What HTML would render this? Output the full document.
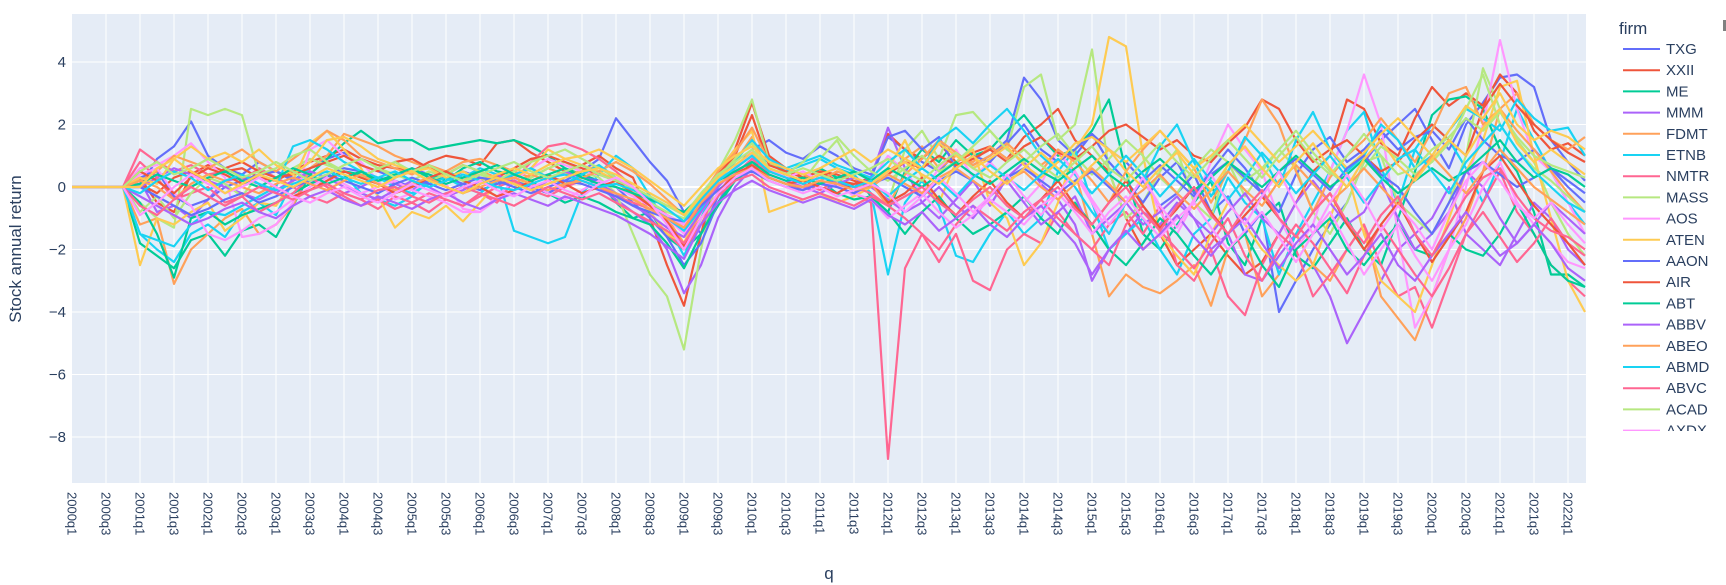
<!DOCTYPE html>
<html><head><meta charset="utf-8"><style>
html,body{margin:0;padding:0;background:#fff;}
svg{display:block;font-family:"Liberation Sans",sans-serif;}
</style></head><body>
<svg id="chart" width="1726" height="585" xmlns="http://www.w3.org/2000/svg">
<rect x="72" y="14" width="1514" height="469" fill="#E5ECF6"/>
<g id="grid"></g>
<g id="lines"></g>
<g id="yticks"></g>
<g id="xticks"></g>
<text x="0" y="0" transform="translate(21,249) rotate(-90)" text-anchor="middle" font-size="17" fill="#2a3f5f">Stock annual return</text>
<text x="829" y="579" text-anchor="middle" font-size="17" fill="#2a3f5f">q</text>
<text x="1619" y="34" font-size="17" fill="#2a3f5f">firm</text>
<g id="legend"></g>
<rect x="1723" y="20" width="3" height="11" fill="#808080"/>
</svg>
<script>
const years = [2000,2001,2002,2003,2004,2005,2006,2007,2008,2009,2010,2011,2012,2013,2014,2015,2016,2017,2018,2019,2020,2021,2022];
const firms = ["TXG","XXII","ME","MMM","FDMT","ETNB","NMTR","MASS","AOS","ATEN","AAON","AIR","ABT","ABBV","ABEO","ABMD","ABVC","ACAD","AXDX","ACHC","ACHV","ACIU","ACIW","ACLS","ACMR","ACN","ACRS","ACRX","ADBE","ADI","ADM","ADP"];
const yTicks = [4,2,0,-2,-4,-6,-8];
const s0=[0,0,0,0,0,0.9,1.3,2.1,1.0,0.6,0.4,0.8,0.5,0.2,0.6,0.9,1.1,0.7,0.5,0.3,0.6,0.4,0.2,0.5,0.3,0.1,0.4,0.6,0.3,0.2,0.5,0.9,2.2,1.5,0.8,0.2,-0.8,-1.5,-0.3,0.6,1.2,1.5,1.1,0.9,1.3,1.0,0.6,0.4,1.6,1.2,0.8,0.5,1.1,0.7,1.0,1.5,3.5,2.8,1.5,1.0,1.7,1.2,0.8,0.2,-0.6,-0.2,0.4,-0.8,-0.3,-1.5,-0.8,-4.0,-3.0,-2.0,-1.2,-0.5,0.8,1.5,2.0,2.5,1.5,0.6,2.0,2.7,3.5,3.6,3.2,1.5,0.8,0.2];
const s1=[0,0,0,0,0.3,-0.5,-0.8,0.4,0.7,0.5,0.6,0.3,0.2,0.5,0.8,1.0,1.2,0.9,0.7,0.6,0.5,0.8,1.0,0.9,0.7,1.4,1.5,1.1,0.8,0.5,0.7,1.0,0.6,0.3,-1.0,-2.5,-3.8,-1.5,0.5,1.2,2.7,1.0,0.6,0.3,0.5,0.2,0.1,0.3,1.7,1.2,0.9,1.4,0.8,1.1,1.3,0.9,1.6,2.0,2.5,1.5,1.0,0.5,-1.0,-2.0,-1.5,-2.5,-2.0,-1.5,-2.2,-2.8,-2.4,-1.5,-0.5,0.5,1.0,2.8,2.5,1.4,1.0,2.2,3.2,2.6,3.0,2.6,3.6,3.0,1.8,1.2,1.4,1.0];
const s2=[0,0,0,0,-1.8,-2.2,-2.6,-1.7,-1.5,-2.2,-1.4,-1.2,-1.6,-0.6,0.4,0.9,1.4,1.8,1.4,1.5,1.5,1.2,1.3,1.4,1.5,1.4,1.5,1.3,1.0,0.6,0.4,0.2,-0.5,-1.0,-0.8,-1.6,-2.0,-1.5,-0.6,0.2,0.8,0.5,0.4,0.2,0.6,0.3,0.4,-0.3,-0.8,0.5,1.2,0.8,1.5,1.0,1.2,1.8,2.3,1.6,1.0,1.2,1.8,2.8,0.5,-1.5,-2.0,-1.2,-0.5,0.2,-1.8,-2.5,-1.0,-0.5,-2.2,-2.6,-1.8,-1.0,-2.0,-2.5,-1.0,0.5,2.3,2.8,2.9,2.5,1.2,0.5,-0.8,-2.8,-2.8,-3.2];
const s3=[0,0,0,0,0.2,-0.8,-0.6,-1.0,-0.4,0.2,0.3,0.1,-0.2,0.2,0.4,0.1,-0.2,0.0,0.3,0.1,-0.1,0.2,0.0,-0.2,0.1,0.3,0.2,0.0,-0.2,0.1,0.2,0.0,-0.4,-0.8,-1.2,-2.0,-3.4,-2.5,-1.0,0.0,0.6,0.3,0.1,-0.1,0.2,0.0,-0.2,0.3,1.9,0.6,-0.5,-1.0,-0.4,0.2,-0.6,0.3,0.8,0.1,-0.4,-1.2,-3.0,-2.0,-1.5,-0.8,-1.2,-0.5,-1.0,-2.0,-1.5,-2.8,-3.0,-2.2,-1.5,-2.5,-3.5,-5.0,-4.0,-3.0,-2.0,-1.5,-1.0,0.0,-1.5,-2.0,-2.5,-1.5,-0.5,-1.0,-2.0,-2.5];
const s4=[0,0,0,0,-1.2,-1.0,-3.1,-2.0,-1.5,-1.0,-0.7,-1.5,-1.2,-0.6,0.6,1.0,1.7,1.5,1.3,1.0,0.8,0.6,0.5,0.8,0.9,0.7,0.5,0.3,0.6,0.4,0.5,0.7,0.2,-0.2,-0.5,-1.0,-1.8,-0.8,0.3,0.8,1.6,0.5,0.3,0.1,0.4,0.2,0.0,0.1,0.5,0.9,1.3,0.6,1.0,0.8,1.3,0.9,1.2,0.7,1.1,0.5,-1.5,-3.5,-2.8,-3.2,-3.4,-3.0,-2.5,-3.8,-2.0,-1.5,-3.5,-2.8,-1.5,-2.5,-3.0,-2.0,-1.2,-3.5,-4.2,-4.9,-3.5,-2.0,-1.0,0.5,2.5,3.0,2.0,1.5,1.2,1.6];
const s5=[0,0,0,0,-1.5,-2.0,-2.4,-1.5,-1.2,-1.6,-0.8,-0.5,-0.9,0.2,0.6,0.8,0.4,-0.2,-0.4,-0.6,-0.3,0.2,0.5,0.3,0.6,0.4,-1.4,-1.6,-1.8,-1.6,-0.2,0.4,1.0,0.6,-0.3,-1.2,-2.2,-1.0,0.2,0.6,1.0,0.8,0.5,0.7,0.9,0.6,0.4,-0.2,-2.8,-0.5,0.2,-0.6,-2.2,-2.4,-1.5,-0.8,-1.5,-1.0,0.5,1.2,-0.5,-2.0,-1.5,-1.0,-2.0,-2.8,-1.5,-1.0,0.3,-0.5,-1.0,-2.8,-1.5,-0.5,0.5,1.8,2.4,0.6,-0.5,1.2,2.0,1.5,0.6,-0.5,0.8,2.5,1.5,0.5,-0.5,-1.2];
const s6=[0,0,0,0,1.2,0.8,0.5,0.7,0.4,0.5,0.2,0.6,0.3,0.0,-0.3,-0.5,-0.2,-0.4,-0.7,-0.3,-0.5,-0.8,-0.4,-0.6,-0.2,-0.5,0.2,0.8,1.3,1.4,1.2,0.9,0.5,0.0,-0.8,-1.5,-2.0,-1.2,-0.2,0.5,0.8,0.3,0.1,-0.1,0.2,0.0,-0.2,-0.5,-8.7,-2.6,-1.5,-2.4,-1.5,-3.0,-3.3,-2.0,-1.5,-1.8,-0.8,-1.5,-2.0,-1.2,-0.8,-1.5,-0.6,-2.5,-3.0,-2.0,-3.5,-4.1,-2.5,-1.5,-2.0,-3.5,-2.8,-2.0,-1.2,-2.5,-3.5,-3.2,-4.5,-3.0,-1.5,-0.5,0.5,-0.8,-1.5,-2.5,-3.0,-3.5];
const s7=[0,0,0,0,-0.5,-1.0,-1.3,2.5,2.3,2.5,2.3,0.4,0.2,0.6,0.9,0.7,0.5,0.3,0.6,0.4,0.2,0.5,0.3,0.1,0.4,0.2,0.0,0.3,0.6,0.8,0.5,0.3,-0.2,-1.5,-2.8,-3.5,-5.2,-2.0,0.5,1.5,2.8,0.8,0.4,0.2,0.9,1.5,0.5,0.2,-0.5,1.2,1.8,0.9,2.3,2.4,1.8,1.2,3.2,3.6,1.5,2.0,4.4,0.5,-1.0,-0.5,0.5,1.2,-0.5,-1.0,0.8,-0.3,0.5,1.2,0.6,-0.8,-1.5,-0.5,0.8,1.0,-0.5,-1.0,-1.5,-0.5,1.0,3.8,2.5,1.5,0.8,-0.5,-1.5,-2.2];
const s8=[0,0,0,0,0.6,0.7,1.0,1.4,0.8,0.3,-1.6,-1.5,-1.2,-0.5,1.2,1.5,1.0,0.8,0.2,-0.4,-0.2,0.3,0.1,-0.7,-0.8,-0.3,0.2,0.6,0.9,0.7,0.5,0.4,0.2,0.0,-0.4,-1.0,-1.5,-0.8,0.0,0.5,1.2,0.6,0.3,0.0,0.2,0.1,-0.3,0.2,1.0,0.5,-0.2,0.6,1.2,0.3,0.8,0.2,-0.5,0.1,1.2,0.4,-0.5,-1.5,-0.5,0.3,-0.8,-1.5,-0.5,0.8,2.0,1.2,0.5,-1.0,-2.0,-1.2,0.5,1.8,3.6,2.0,-1.5,-4.5,-3.5,-2.0,0.0,2.0,4.7,2.5,1.0,0.5,-0.5,-1.5];
const s9=[0,0,0,0,-2.5,-1.0,-1.2,-0.8,-0.5,-1.4,-1.0,-0.5,-0.6,0.2,1.4,1.8,1.2,0.6,-0.3,-1.3,-0.8,-1.0,-0.6,-1.1,-0.5,0.1,0.3,0.6,1.2,0.9,0.7,0.5,0.2,-0.3,-0.8,-1.5,-1.8,-0.5,0.5,1.2,1.8,-0.8,-0.6,-0.4,-0.2,-0.5,-0.3,0.0,0.6,1.5,0.3,-0.5,0.8,1.2,-0.5,-1.0,-2.5,-1.8,-0.5,1.2,2.0,4.8,4.5,1.0,-1.5,-2.2,-2.8,-1.5,-0.5,-1.2,-2.0,-2.5,-3.0,-2.5,-1.0,0.5,-1.5,-3.0,-3.5,-4.0,-2.5,-1.0,0.5,1.5,3.2,3.4,1.0,-1.0,-3.0,-4.0];
const s10=[0,0,0,0,0.3,0.5,-0.3,-0.6,-0.4,0.0,0.2,0.4,0.5,0.3,0.1,0.4,0.6,0.5,0.3,0.2,0.0,0.2,0.3,0.1,-0.1,0.1,0.2,0.0,-0.2,0.1,0.3,0.2,0.0,-0.5,-1.0,-1.6,-2.5,-1.8,-0.5,0.4,0.9,0.5,0.3,0.2,0.4,0.1,0.0,0.3,1.6,1.8,1.2,1.6,0.6,1.0,0.8,1.4,2.0,1.2,0.8,1.2,1.7,0.8,0.2,-0.5,0.3,0.8,-0.2,0.5,1.2,0.6,-0.2,-0.8,0.4,1.2,1.6,0.8,1.2,1.8,1.2,1.6,1.8,1.2,2.2,1.5,1.0,0.8,1.2,0.6,0.0,-0.5];
const s11=[0,0,0,0,0.1,-0.2,0.3,0.5,0.2,0.6,0.8,0.5,0.3,0.4,0.6,0.8,1.0,0.7,0.5,0.8,0.9,0.6,0.4,0.7,0.5,0.3,0.6,0.9,1.0,0.8,0.6,0.4,0.2,-0.2,-0.5,-0.9,-1.2,-0.5,0.4,1.0,2.3,0.7,0.5,0.3,0.5,0.4,0.2,0.0,0.4,0.8,0.6,1.0,0.7,0.9,1.2,0.8,1.3,1.6,1.1,0.9,1.3,1.8,2.0,1.6,1.2,1.5,1.0,0.8,1.4,1.9,2.8,2.5,1.5,0.8,1.2,1.5,1.0,0.5,0.8,1.5,2.0,1.5,1.0,2.5,3.3,2.6,2.0,1.5,1.1,0.8];
const s12=[0,0,0,0,-0.5,-1.5,-2.9,-1.0,-0.8,-1.2,-0.9,-0.7,-0.5,-0.2,0.1,0.3,0.5,0.4,0.2,0.3,0.5,0.4,0.2,0.6,0.8,0.5,0.4,0.2,-0.2,-0.5,-0.3,-0.5,-0.8,-1.0,-1.2,-1.8,-2.6,-1.5,-0.5,0.2,0.6,0.3,0.1,0.0,0.2,-0.2,-0.4,-0.3,-0.8,-1.5,-0.8,-0.3,-1.0,-1.5,-1.2,-0.8,-0.3,-1.0,-1.5,-0.5,-1.2,-2.0,-2.5,-1.8,-1.0,-1.5,-2.2,-2.8,-2.0,-1.5,-2.5,-3.2,-2.0,-1.5,-1.0,-2.0,-2.5,-1.8,-1.2,-2.0,-2.2,-1.5,-2.0,-2.2,-1.5,-0.5,-1.5,-2.5,-3.0,-3.2];
const s13=[0,0,0,0,0.0,0.3,0.6,0.4,0.2,0.0,-0.2,-0.4,-0.1,0.2,0.5,0.3,0.0,-0.2,-0.4,-0.1,0.2,0.0,-0.3,-0.1,0.2,0.4,0.1,-0.1,0.2,0.5,0.3,0.1,-0.2,-0.6,-0.9,-1.3,-1.6,-0.8,0.0,0.6,1.0,0.4,0.2,0.0,-0.2,0.1,0.3,0.0,-0.4,-0.8,-0.5,0.0,-0.6,-1.0,-0.3,0.2,-0.5,-1.2,-0.8,-0.3,-1.5,-1.0,-0.5,-1.2,-0.8,-0.3,-1.0,-1.5,-0.8,-0.2,-1.0,-1.5,-0.5,0.2,-0.5,-1.2,-0.8,0.2,-1.0,-2.0,-1.5,-0.8,0.5,0.0,-1.0,-1.8,-1.2,-0.5,-1.0,-1.5];
const s14=[0,0,0,0,0.2,0.5,1.0,0.8,0.6,0.9,1.2,0.8,0.5,0.9,1.3,1.8,1.5,1.0,0.8,0.6,0.4,0.7,0.5,0.2,0.5,0.3,0.1,0.4,0.2,0.0,0.3,0.5,0.8,0.5,0.1,-0.4,-0.9,-0.3,0.5,1.1,1.9,0.8,0.6,0.4,0.2,0.5,0.3,0.1,-0.6,0.4,0.9,1.5,1.1,0.7,1.0,1.4,0.9,0.5,1.2,0.8,0.2,-0.5,0.5,1.2,1.8,1.2,0.6,-0.5,0.5,1.5,2.8,2.0,0.5,-0.8,0.3,1.0,1.5,2.2,1.5,0.8,1.8,3.0,3.2,2.0,2.5,1.8,1.2,0.5,-0.2,-0.8];
const s15=[0,0,0,0,-1.5,-1.7,-1.9,-1.2,-0.8,-0.9,-0.6,-0.3,0.0,1.3,1.5,1.2,0.8,0.5,0.3,0.0,-0.2,0.1,0.3,0.0,-0.2,0.2,0.4,0.6,0.3,0.1,0.4,0.7,0.3,0.0,-0.4,-1.0,-1.4,-0.7,0.2,0.8,1.5,0.9,0.6,0.8,1.0,0.7,0.5,0.3,0.8,1.2,0.6,1.5,1.9,1.4,2.0,2.5,1.8,1.0,0.5,0.0,-0.8,-1.5,-0.5,0.2,1.3,2.0,0.8,-0.3,0.5,1.6,1.0,0.0,1.5,2.4,1.2,0.5,1.0,2.0,1.5,0.6,1.0,1.8,2.5,2.2,1.8,2.8,2.2,1.8,1.9,1.0];
const s16=[0,0,0,0,0.8,0.3,-0.4,-0.2,0.0,-0.5,-0.3,-0.8,-0.5,-0.2,0.3,0.0,-0.3,-0.6,-0.4,-0.7,-0.5,-0.2,-0.4,-0.6,-0.3,0.0,0.2,-0.1,-0.3,0.0,0.2,0.0,-0.3,-0.5,-0.7,-1.0,-1.3,-0.6,0.1,0.4,0.9,0.5,0.3,0.1,-0.1,0.2,0.0,-0.2,-0.6,-1.0,-1.5,-2.0,-1.2,-0.6,-1.0,-1.4,-0.8,-0.4,-1.0,-1.5,-2.0,-2.5,-1.2,-0.6,-1.4,-2.0,-2.6,-1.8,-1.0,-2.2,-3.0,-2.0,-1.2,-1.8,-2.6,-3.4,-2.2,-1.2,-2.0,-2.8,-3.5,-2.6,-1.5,-0.8,-1.6,-2.4,-1.8,-1.0,-1.8,-2.2];
const s17=[0,0,0,0,-0.8,-0.3,-1.0,-0.2,0.3,0.1,-0.3,0.4,0.6,1.0,1.2,0.8,0.5,0.3,0.6,0.8,0.5,0.2,0.4,0.7,0.5,0.2,0.5,0.8,1.0,1.2,0.9,0.6,0.3,-0.1,-0.5,-0.8,-1.0,-0.4,0.3,0.9,1.4,0.6,0.4,0.8,1.4,1.6,1.0,0.5,0.2,0.6,1.0,0.5,0.8,1.3,1.8,1.2,0.8,1.3,1.7,1.0,0.4,0.9,1.5,1.0,0.3,-0.2,0.6,1.2,0.8,0.2,0.6,1.2,1.8,1.1,0.5,0.0,0.6,1.3,0.9,0.4,0.8,1.4,2.5,3.6,2.0,1.2,0.6,0.2,-0.3,-0.8];
const s18=[0,0,0,0,0.4,0.6,-0.2,-0.6,-1.5,-1.7,-1.4,-1.0,-0.8,-0.4,0.0,0.3,0.1,-0.2,0.0,0.2,-0.1,-0.3,-0.5,-0.8,-0.8,-0.4,-0.1,0.1,-0.2,-0.4,-0.1,0.2,0.0,-0.3,-0.6,-0.9,-1.2,-0.5,0.2,0.6,1.1,0.6,0.3,0.5,0.2,0.0,-0.2,-0.4,-1.0,-0.6,-0.2,-0.8,-1.3,-0.9,-0.4,-0.8,-1.2,-0.6,-0.2,-0.8,-1.5,-0.8,-0.3,-1.0,-1.6,-1.0,-0.5,-1.3,-2.0,-1.4,-0.8,-1.6,-2.4,-1.5,-0.8,-1.8,-2.8,-2.0,-1.2,-2.2,-3.0,-2.0,-1.2,0.0,0.8,-0.5,-1.2,-1.8,-2.4,-2.6];
const s19=[0,0,0,0,0.3,0.1,0.9,1.3,0.9,1.1,0.8,1.2,0.7,0.4,0.8,1.5,1.6,1.3,0.9,0.7,0.5,0.6,0.3,0.5,0.2,0.4,0.6,0.4,0.7,0.9,1.0,1.2,0.9,0.6,0.2,-0.2,-0.6,0.0,0.6,1.0,1.3,0.8,0.6,0.4,0.6,0.9,1.2,0.8,1.2,0.9,0.6,1.4,1.0,0.6,0.9,1.3,0.7,0.3,0.8,1.4,1.6,1.2,0.8,1.3,1.8,1.2,0.6,1.0,1.5,2.0,1.4,0.8,1.3,1.8,1.2,0.6,1.1,1.7,2.2,1.6,1.0,1.8,2.6,2.2,3.0,2.0,1.5,1.8,1.6,1.2];
const s20=[0,0,0,0,0.0,-0.3,-0.6,-0.9,-0.7,-0.4,-0.2,-0.5,-0.3,0.0,0.2,0.4,0.2,0.0,-0.2,0.1,0.3,0.1,-0.1,0.1,0.3,0.2,0.0,-0.2,0.0,0.2,0.1,-0.1,-0.3,-0.6,-0.8,-1.0,-1.1,-0.6,-0.1,0.3,0.5,0.2,0.0,-0.1,0.1,0.0,-0.2,0.1,0.3,0.0,-0.3,0.2,0.5,0.2,-0.2,0.3,0.6,0.2,-0.2,0.2,0.5,0.0,-0.5,0.2,0.7,0.2,-0.3,0.4,0.8,0.3,-0.2,0.5,0.9,0.4,-0.1,0.6,1.0,0.4,0.0,-0.8,-1.5,-0.5,0.5,0.8,0.4,0.0,0.3,0.6,0.2,-0.2];
const s21=[0,0,0,0,0.5,0.2,-0.2,0.3,0.6,0.4,0.1,0.3,0.0,-0.3,-0.1,0.2,0.5,0.3,0.1,-0.2,0.0,0.3,0.5,0.2,0.0,-0.3,-0.1,0.2,0.4,0.1,-0.2,0.0,0.2,-0.2,-0.6,-1.1,-1.9,-1.0,-0.2,0.4,0.7,0.3,0.1,0.2,0.0,-0.2,0.1,0.2,-0.5,-0.2,0.3,-0.4,-0.9,-0.3,0.2,-0.5,-1.0,-0.4,0.2,-0.6,-1.2,-0.5,0.2,-0.6,-1.3,-0.7,0.0,-0.8,-1.5,-0.9,-0.3,-1.0,-1.6,-0.8,-0.2,-1.2,-2.0,-1.2,-0.5,-1.5,-2.4,-1.6,-0.8,0.5,1.0,0.2,-0.6,-1.2,-1.8,-2.5];
const s22=[0,0,0,0,0.1,0.4,0.2,0.0,0.3,0.5,0.2,0.0,0.3,0.6,0.4,0.1,0.3,0.5,0.2,0.4,0.6,0.3,0.1,0.3,0.5,0.7,0.4,0.2,0.4,0.6,0.3,0.1,0.0,-0.2,-0.4,-0.6,-0.8,-0.3,0.2,0.5,0.8,0.4,0.2,0.3,0.1,0.3,0.5,0.2,0.6,0.3,0.0,0.4,0.8,0.4,0.1,0.5,0.9,0.5,0.2,0.6,1.0,0.4,0.0,0.5,0.9,0.4,-0.1,0.3,0.8,0.4,0.0,0.5,1.0,0.5,0.0,0.4,0.9,0.3,-0.2,0.2,0.6,0.2,0.5,1.0,1.5,0.8,0.3,0.6,0.4,0.0];
const s23=[0,0,0,0,-0.3,-0.6,-0.9,-1.2,-1.0,-0.7,-0.5,-0.8,-1.0,-0.6,-0.3,-0.1,-0.4,-0.6,-0.3,-0.5,-0.7,-0.4,-0.2,-0.5,-0.7,-0.4,-0.2,-0.4,-0.6,-0.3,-0.5,-0.7,-0.9,-1.2,-1.5,-1.9,-2.3,-1.2,-0.5,-0.1,0.2,-0.1,-0.3,-0.5,-0.3,-0.5,-0.7,-0.4,-0.9,-1.2,-0.8,-1.4,-1.0,-0.6,-1.2,-1.6,-1.0,-0.6,-1.2,-1.8,-2.8,-2.0,-1.4,-2.0,-1.5,-0.9,-1.6,-2.2,-1.5,-1.0,-1.8,-2.6,-1.8,-1.2,-2.0,-2.8,-2.2,-1.5,-2.5,-3.0,-2.2,-1.5,-0.8,-1.5,-2.2,-1.8,-1.2,-1.8,-2.6,-3.0];
const s24=[0,0,0,0,0.2,0.0,-0.4,0.1,0.4,0.2,0.0,-0.2,0.1,0.3,0.1,-0.1,0.2,0.4,0.1,-0.1,0.1,0.3,0.0,-0.2,0.0,0.2,0.3,0.1,-0.1,0.1,0.2,0.0,-0.2,-0.4,-0.7,-1.0,-1.3,-0.5,0.1,0.4,0.6,0.3,0.1,0.0,0.2,0.1,-0.1,0.0,0.4,0.1,-0.2,0.3,0.6,0.2,-0.2,0.2,0.5,0.0,-0.4,0.1,0.6,0.1,-0.5,-0.1,0.4,-0.2,-0.7,-0.1,0.5,-0.1,-0.6,0.2,0.7,0.1,-0.5,0.0,0.6,0.0,-0.6,0.3,1.0,0.4,-0.2,0.5,1.2,0.6,0.0,-0.4,-0.8,-1.2];
const s25=[0,0,0,0,-0.2,0.2,0.5,0.3,-0.1,0.2,0.4,0.1,-0.1,0.1,0.3,0.5,0.3,0.1,0.3,0.5,0.2,0.0,0.2,0.4,0.2,0.0,-0.1,0.1,0.3,0.4,0.2,0.0,0.1,-0.1,-0.3,-0.7,-1.1,-0.4,0.2,0.6,1.0,0.5,0.3,0.1,0.3,0.2,0.0,0.2,-0.3,0.2,0.6,0.2,-0.3,0.3,0.7,0.3,-0.1,0.4,0.9,0.4,-0.2,0.4,1.0,0.4,-0.3,0.3,0.9,0.2,-0.4,0.3,1.1,0.5,-0.2,0.4,1.0,0.3,-0.5,0.2,0.9,1.2,0.5,-0.2,0.8,1.4,2.0,1.2,0.5,0.0,-0.5,-0.8];
const s26=[0,0,0,0,-0.6,-0.9,-0.4,0.0,-0.3,-0.6,-0.3,0.0,-0.2,-0.4,-0.1,0.1,-0.2,-0.4,-0.1,0.0,-0.3,-0.5,-0.2,0.0,-0.2,-0.4,-0.6,-0.3,0.0,-0.2,-0.4,-0.2,-0.5,-0.8,-1.1,-1.4,-1.8,-1.0,-0.3,0.2,0.4,0.0,-0.2,-0.4,-0.2,-0.4,-0.6,-0.3,-0.6,-0.3,0.0,-0.5,-0.9,-0.4,0.0,-0.6,-1.0,-0.4,0.0,-0.7,-1.2,-0.5,0.0,-0.8,-1.4,-0.6,0.0,-0.9,-1.5,-0.7,-0.1,-1.0,-1.6,-0.8,-0.2,-1.1,-1.8,-0.9,-0.3,-1.5,-2.2,-1.2,-0.3,0.3,0.6,-0.3,-1.0,-1.4,-1.6,-2.0];
const s27=[0,0,0,0,0.5,0.8,0.4,0.6,0.9,0.6,0.3,0.5,0.8,0.5,0.2,0.4,0.7,0.9,0.6,0.3,0.5,0.7,0.4,0.2,0.4,0.6,0.8,0.5,0.3,0.5,0.7,0.4,0.2,0.0,-0.3,-0.6,-0.9,-0.2,0.4,0.8,1.2,0.6,0.4,0.6,0.4,0.2,0.4,0.6,0.9,0.5,0.2,0.7,1.1,0.6,0.3,0.8,1.2,0.7,0.3,0.8,1.3,0.6,0.2,0.8,1.4,0.8,0.3,0.9,1.5,0.9,0.3,1.0,1.6,0.9,0.4,1.0,1.7,1.0,0.4,0.6,1.2,1.6,2.2,1.8,2.4,1.6,1.0,0.7,0.5,0.3];
const s28=[0,0,0,0,-0.9,-0.5,0.0,0.4,0.1,-0.2,0.0,0.3,0.0,-0.3,-0.5,-0.2,0.0,-0.3,-0.5,-0.2,0.1,-0.1,-0.3,0.0,0.2,-0.1,-0.3,0.0,0.2,-0.1,-0.3,0.1,0.3,0.0,-0.5,-1.2,-2.0,-1.0,-0.2,0.3,0.6,0.2,0.0,-0.2,0.0,-0.3,-0.1,0.1,-0.2,-0.8,-0.3,0.3,-0.2,-0.8,-0.3,0.4,-0.3,-0.9,-0.2,0.5,-0.4,-1.2,-0.5,0.3,-0.6,-1.3,-0.4,0.4,-0.5,-1.2,-0.3,0.5,-0.6,-1.5,-0.5,0.4,-0.4,-1.4,-0.6,-1.2,-2.0,-0.8,0.2,0.8,0.2,-0.6,-1.0,-0.5,-1.2,-1.8];
const s29=[0,0,0,0,0.0,0.6,0.9,0.5,0.2,-0.2,0.1,0.4,0.2,0.0,0.3,0.6,0.4,0.2,0.0,0.3,0.5,0.2,0.0,-0.2,0.1,0.3,0.1,-0.1,0.1,0.3,0.5,0.6,0.4,0.1,-0.2,-0.5,-0.9,-0.3,0.3,0.7,1.1,0.6,0.4,0.2,0.4,0.6,0.3,0.1,0.5,0.8,0.4,0.1,0.6,1.0,0.5,0.1,0.6,1.1,0.6,0.1,0.7,1.2,0.5,0.0,0.6,1.1,0.4,-0.1,0.7,1.3,0.6,0.0,0.8,1.4,0.6,0.0,0.9,1.5,0.7,0.2,0.9,1.5,1.0,1.9,2.5,1.4,0.8,1.2,0.8,0.4];
const series=[s0,s1,s2,s3,s4,s5,s6,s7,s8,s9,s10,s11,s12,s13,s14,s15,s16,s17,s18,s19,s20,s21,s22,s23,s24,s25,s26,s27,s28,s29];
const palette=["#636efa","#EF553B","#00cc96","#ab63fa","#FFA15A","#19d3f3","#FF6692","#B6E880","#FF97FF","#FECB52"];
const NS="http://www.w3.org/2000/svg";
const quarters=[];years.forEach(y=>{for(let q=1;q<=4;q++){if(y===2022&&q>2)continue;quarters.push(y+"q"+q);}});
const X0=72,DX=17,Y0=187,YS=31.25;
const xs=i=>X0+i*DX, ys=v=>Y0-v*YS;
function mk(t,a,p){const e=document.createElementNS(NS,t);for(const k in a)e.setAttribute(k,a[k]);p.appendChild(e);return e;}
const grid=document.getElementById('grid'),xt=document.getElementById('xticks'),yt=document.getElementById('yticks');
quarters.forEach((q,i)=>{if(i%2)return;
 if(i>0){const l=mk('line',{x1:xs(i),x2:xs(i),y1:14,y2:483,stroke:'#fff','stroke-width':1},grid);
 
 }
 const t=mk('text',{x:xs(i),y:492,transform:`rotate(90 ${xs(i)} 492)`,'font-size':13,fill:'#2a3f5f','dominant-baseline':'central'},xt);
 t.textContent=q;
 
 });
yTicks.forEach(v=>{const l=mk('line',{x1:72,x2:1586,y1:ys(v),y2:ys(v),stroke:'#fff','stroke-width':v===0?2:1},grid);
 
 
 const t=mk('text',{x:66,y:ys(v)+5,'text-anchor':'end','font-size':15,fill:'#2a3f5f'},yt);
 t.textContent=v<0?'\u2212'+(-v):String(v);
 
 });
const lines=document.getElementById('lines');
series.forEach((s,k)=>{const p=mk('polyline',{points:s.map((v,i)=>xs(i)+','+ys(v)).join(' '),fill:'none',stroke:palette[k%10],'stroke-width':2.2,'stroke-linejoin':'round'},lines);
 
 });
const lg=document.getElementById('legend');
firms.slice(0,19).forEach((f,k)=>{const y=49+k*21.2;
 const g=mk('g',{},lg);
 
 
 mk('line',{x1:1623,x2:1660,y1:y,y2:y,stroke:palette[k%10],'stroke-width':2},g);
 const t=mk('text',{x:1666,y:y+5,'font-size':15,fill:'#2a3f5f'},g);t.textContent=f;
 if(k===18){g.setAttribute('clip-path','url(#lgclip)');}});
const defs=mk('defs',{},document.getElementById('chart'));
const cp=mk('clipPath',{id:'lgclip'},defs);mk('rect',{x:1600,y:0,width:126,height:431},cp);
</script>
</body></html>
